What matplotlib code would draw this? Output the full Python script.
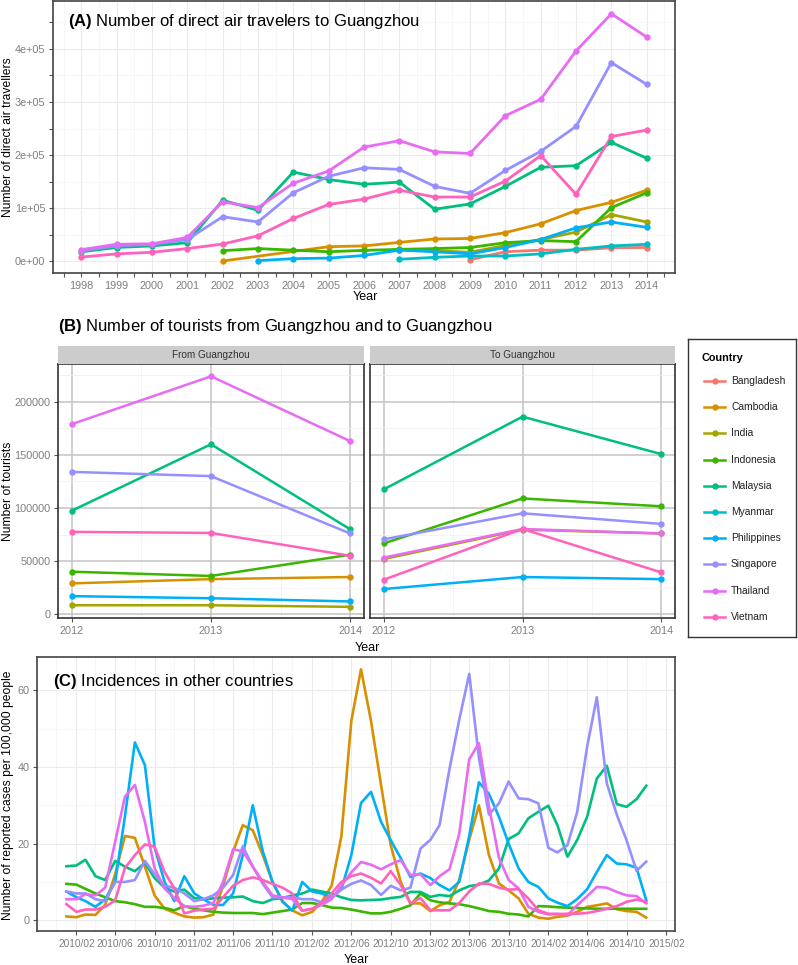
import numpy as np
import pandas as pd
import matplotlib
matplotlib.use('Agg')
import matplotlib.pyplot as plt
from matplotlib.patches import Rectangle

plt.rcParams['font.family'] = ['Liberation Sans', 'DejaVu Sans']
plt.rcParams['mathtext.fontset'] = 'custom'
plt.rcParams['mathtext.rm'] = 'Liberation Sans'
plt.rcParams['mathtext.bf'] = 'Liberation Sans:bold'

nan = np.nan

#%% data
countries = ['Bangladesh', 'Cambodia', 'India', 'Indonesia', 'Malaysia',
             'Myanmar', 'Philippines', 'Singapore', 'Thailand', 'Vietnam']
colors = ['#F8766D', '#D89000', '#A3A500', '#39B600', '#00BF7D',
          '#00BFC4', '#00B0F6', '#9590FF', '#E76BF3', '#FF62BC']

# (A) direct air travellers, 1998-2014
air_years = list(range(1998, 2015))
air_bangladesh = [nan]*11 + [3000, 18000, 21000, 21000, 25600, 26000]
air_cambodia = [nan]*4 + [600, nan, nan, 27500, 29000, 35600, 42000, 43000,
                          54000, 70600, 95600, 111000, 134000]
air_india = [nan]*9 + [22000, 20000, 17000, 30000, 41000, 55000, 88000, 74000]
air_indonesia = [nan]*4 + [20000, 24000, 21000, 18000, 20600, 22500, 24000,
                           26000, 35000, 39000, 37000, 101000, 129000]
air_malaysia = [18000, 26000, 29000, 35000, 115000, 96000, 168000, 154000,
                145000, 149000, 98000, 108000, 141000, 177000, 180000,
                224000, 194000]
air_myanmar = [nan]*9 + [3800, 7500, 10000, 10000, 14000, 22500, 29000, 32000]
air_philippines = [nan]*5 + [1300, 5000, 6000, 11000, 21000, 18000, 14000,
                             26000, 41000, 63000, 74000, 64000]
air_singapore = [20000, 29000, 32000, 41000, 84000, 74000, 129000, 160000,
                 176000, 173000, 141000, 128000, 171000, 207000, 254000,
                 374000, 333000]
air_thailand = [22000, 32000, 33000, 45000, 112000, 101000, 147000, 170000,
                215000, 227000, 206000, 203000, 274000, 305000, 396000,
                466000, 422000]
air_vietnam = [8000, 14000, 17000, 24000, 32500, 48000, 80600, 107000,
               117000, 134000, 121000, 121000, 151000, 199000, 126000,
               235000, 247000]

# (B) tourists, 2012-2014
tour_years = [2012, 2013, 2014]
from_cambodia = [29000, 33000, 35000]
from_india = [8400, 8400, 6900]
from_indonesia = [40000, 36000, 56000]
from_malaysia = [97500, 160000, 80000]
from_philippines = [17000, 15000, 12000]
from_singapore = [134000, 130000, 76000]
from_thailand = [179000, 224000, 163000]
from_vietnam = [77500, 76500, 55000]

to_india = [52000, 79600, 76000]
to_indonesia = [66700, 109000, 101600]
to_malaysia = [117600, 186000, 150800]
to_philippines = [23700, 35000, 33000]
to_singapore = [70500, 95000, 85000]
to_thailand = [53300, 80200, 76000]
to_vietnam = [32500, 80200, 39400]

# (C) monthly incidence per 100,000, 2010/01 - 2014/12
months = pd.date_range('2010-01-01', periods=60, freq='MS')
inc_cambodia = [1.0, 0.8, 1.5, 1.4, 4.0, 12.0, 22.0, 21.5, 14.0, 6.5,
                3.0, 2.0, 1.0, 0.7, 0.8, 1.5, 9.0, 17.9, 24.8, 23.5,
                17.0, 10.0, 4.8, 2.6, 1.3, 2.2, 4.8, 9.0, 21.8, 52.0,
                65.5, 52.0, 35.3, 19.6, 10.0, 4.4, 4.4, 2.4, 3.9, 4.8,
                10.5, 21.0, 30.0, 17.0, 9.6, 7.8, 5.7, 1.7, 0.7, 0.4,
                0.9, 1.2, 2.2, 3.5, 3.9, 4.4, 2.9, 2.4, 2.2, 0.7]
inc_indonesia = [9.5, 9.3, 8.2, 7.0, 6.0, 5.0, 4.7, 4.2, 3.5, 3.5,
                 3.2, 2.6, 3.7, 3.0, 2.6, 2.2, 2.0, 1.9, 1.9, 1.9,
                 1.6, 2.0, 2.4, 2.8, 4.5, 4.5, 4.0, 3.3, 3.2, 2.8,
                 2.3, 1.8, 1.8, 2.2, 3.0, 3.9, 7.0, 5.2, 4.7, 4.4,
                 4.2, 3.7, 3.1, 2.4, 2.2, 1.7, 1.5, 1.0, 3.7, 3.6,
                 3.4, 3.3, 3.2, 3.1, 3.0, 3.0, 3.0, 3.0, 3.0, 3.0]
inc_malaysia = [14.1, 14.3, 15.8, 11.5, 10.5, 15.5, 14.0, 12.8, 15.0, 11.0,
                8.5, 7.5, 8.0, 5.8, 5.5, 5.7, 5.9, 6.0, 6.2, 5.0,
                4.5, 5.5, 5.8, 6.5, 7.0, 8.0, 7.5, 7.0, 6.0, 5.3,
                5.2, 5.3, 5.4, 5.8, 6.1, 7.4, 7.4, 6.1, 6.6, 6.3,
                7.8, 8.9, 9.3, 10.4, 13.5, 21.2, 22.7, 26.6, 28.3, 29.9,
                24.8, 16.6, 20.9, 27.0, 37.0, 40.3, 30.3, 29.6, 31.6, 35.1]
inc_philippines = [7.5, 6.0, 5.0, 3.5, 5.5, 10.0, 27.0, 46.4, 40.5, 19.0,
                   10.0, 5.0, 11.5, 7.0, 5.5, 4.0, 4.0, 7.0, 17.0, 30.0,
                   18.0, 10.0, 5.0, 2.5, 10.0, 7.5, 7.0, 6.0, 8.0, 17.0,
                   30.6, 33.5, 25.7, 20.9, 16.2, 11.3, 12.2, 11.0, 9.2, 7.8,
                   10.0, 22.0, 36.0, 33.0, 27.0, 20.0, 13.5, 10.0, 8.7, 5.7,
                   4.6, 3.7, 5.5, 8.1, 12.6, 17.0, 14.8, 14.6, 13.7, 5.2]
inc_singapore = [7.5, 7.0, 7.0, 5.5, 5.0, 10.0, 10.0, 10.5, 15.5, 12.0,
                 9.0, 8.5, 7.0, 5.0, 5.5, 6.5, 8.5, 11.8, 19.3, 14.0,
                 9.5, 6.0, 6.0, 6.0, 5.5, 5.5, 4.7, 6.0, 8.0, 9.5,
                 10.4, 9.2, 6.6, 9.0, 7.8, 8.5, 18.7, 21.0, 24.8, 39.5,
                 52.3, 64.3, 42.4, 27.6, 30.5, 36.2, 31.8, 31.6, 30.5, 18.9,
                 17.7, 19.6, 28.2, 45.3, 58.2, 35.7, 27.5, 20.9, 12.9, 15.3]
inc_thailand = [5.5, 5.5, 6.8, 6.5, 8.5, 20.5, 32.2, 35.3, 25.7, 13.6,
                8.3, 5.8, 3.7, 3.5, 3.8, 4.5, 10.0, 18.5, 18.0, 14.0,
                10.0, 6.5, 6.0, 5.5, 2.5, 3.0, 4.0, 5.5, 9.0, 12.5,
                15.2, 14.5, 13.3, 14.6, 15.7, 11.8, 12.0, 9.2, 11.5, 13.3,
                22.5, 42.0, 46.2, 29.8, 16.3, 10.5, 8.3, 3.5, 2.2, 1.5,
                1.7, 1.3, 3.9, 6.3, 8.7, 8.5, 7.4, 6.5, 6.3, 4.4]
inc_vietnam = [4.2, 2.2, 2.8, 2.8, 3.5, 5.2, 13.6, 17.0, 19.8, 19.2,
               12.6, 8.3, 1.8, 2.5, 2.8, 3.0, 6.0, 9.0, 10.5, 11.2,
               10.5, 9.5, 8.5, 7.0, 2.5, 3.0, 4.5, 7.0, 10.0, 11.5,
               12.2, 11.1, 9.6, 12.8, 9.2, 4.4, 5.8, 2.6, 2.6, 2.6,
               4.5, 7.5, 9.6, 9.5, 8.5, 8.0, 8.1, 5.7, 2.6, 1.7,
               1.6, 1.7, 1.7, 1.9, 2.4, 3.0, 3.7, 4.8, 5.4, 4.8]

air = {'Bangladesh': air_bangladesh, 'Cambodia': air_cambodia, 'India': air_india,
       'Indonesia': air_indonesia, 'Malaysia': air_malaysia, 'Myanmar': air_myanmar,
       'Philippines': air_philippines, 'Singapore': air_singapore,
       'Thailand': air_thailand, 'Vietnam': air_vietnam}
tour_from = {'Cambodia': from_cambodia, 'India': from_india, 'Indonesia': from_indonesia,
             'Malaysia': from_malaysia, 'Philippines': from_philippines,
             'Singapore': from_singapore, 'Thailand': from_thailand,
             'Vietnam': from_vietnam}
tour_to = {'India': to_india, 'Indonesia': to_indonesia, 'Malaysia': to_malaysia,
           'Philippines': to_philippines, 'Singapore': to_singapore,
           'Thailand': to_thailand, 'Vietnam': to_vietnam}
incid = {'Cambodia': inc_cambodia, 'Indonesia': inc_indonesia, 'Malaysia': inc_malaysia,
         'Philippines': inc_philippines, 'Singapore': inc_singapore,
         'Thailand': inc_thailand, 'Vietnam': inc_vietnam}
col = dict(zip(countries, colors))

#%% figure
W, H = 798, 965
fig = plt.figure(figsize=(W/100, H/100), dpi=100)
fig.patch.set_facecolor('white')

TICK_LBL = '#7F7F7F'


def box(x0, y0, x1, y1):
    # pixel box (top-left origin) -> figure fraction rect
    return [x0/W, 1 - y1/H, (x1 - x0)/W, (y1 - y0)/H]


def style(ax, major='#EBEBEB', minor='#F4F4F4', spine='#444444', lw_major=0.8):
    for s in ax.spines.values():
        s.set_color(spine)
        s.set_linewidth(1.2)
    ax.tick_params(which='both', length=3, width=0.8, color='#555555',
                   labelcolor=TICK_LBL, labelsize=7.8, pad=2.5)
    ax.grid(True, which='major', color=major, linewidth=lw_major)
    ax.grid(True, which='minor', color=minor, linewidth=0.5)
    ax.set_axisbelow(True)


def draw_series(ax, x, data, lw=2.0, ms=4.6):
    for name in countries:
        if name not in data:
            continue
        y = np.array(data[name], dtype=float)
        xs = np.array(x)
        ok = ~np.isnan(y)
        ax.plot(xs[ok], y[ok], '-', color=col[name], lw=lw,
                solid_capstyle='round', solid_joinstyle='round', zorder=2)
    for name in countries:
        if name not in data:
            continue
        y = np.array(data[name], dtype=float)
        xs = np.array(x)
        ok = ~np.isnan(y)
        ax.plot(xs[ok], y[ok], 'o', color=col[name], ms=ms, mec='none', zorder=3)


#%% (A) air travellers
ax_a = fig.add_axes(box(53, 1, 675, 273))
draw_series(ax_a, air_years, air)
ax_a.set_xlim(1997.2, 2014.8)
ax_a.set_ylim(-22000, 490000)
ax_a.set_xticks(air_years)
ax_a.set_xticks(np.arange(1997.5, 2015, 1.0), minor=True)
ax_a.set_yticks([0, 100000, 200000, 300000, 400000])
ax_a.set_yticklabels(['0e+00', '1e+05', '2e+05', '3e+05', '4e+05'])
ax_a.set_yticks(np.arange(50000, 490000, 100000), minor=True)
style(ax_a)
ax_a.tick_params(axis='x', which='minor', length=3)
ax_a.text(0.024, 0.926, r'$\mathbf{(A)}$ Number of direct air travelers to Guangzhou',
          transform=ax_a.transAxes, fontsize=12, va='center', ha='left')
fig.text(365/W, 1 - 297/H, 'Year', fontsize=9, ha='center', va='center')
fig.text(8/W, 1 - 137/H, 'Number of direct air travellers', fontsize=8.7,
         rotation=90, ha='center', va='center')

#%% (B) tourists
fig.text(58/W, 1 - 326/H, r'$\mathbf{(B)}$ Number of tourists from Guangzhou and to Guangzhou',
         fontsize=12, ha='left', va='center')
facets = [('From Guangzhou', tour_from, 58, 364), ('To Guangzhou', tour_to, 370, 675)]
for i, (label, data, x0, x1) in enumerate(facets):
    ax = fig.add_axes(box(x0, 364, x1, 618))
    draw_series(ax, tour_years, data, lw=1.8, ms=4.6)
    ax.set_xlim(2011.9, 2014.1)
    ax.set_ylim(-3600, 235600)
    ax.set_xticks(tour_years)
    ax.set_xticks([2012.5, 2013.5], minor=True)
    ax.set_yticks([0, 50000, 100000, 150000, 200000])
    ax.set_yticks([25000, 75000, 125000, 175000, 225000], minor=True)
    style(ax, major='#C4C4C4', minor='#EEEEEE', spine='#333333', lw_major=1.1)
    ax.tick_params(axis='x', which='minor', length=0)
    ax.tick_params(axis='y', which='minor', length=0)
    if i == 0:
        ax.set_yticklabels(['0', '50000', '100000', '150000', '200000'])
    else:
        ax.tick_params(axis='y', which='both', length=0, labelleft=False)
    fig.patches.append(Rectangle((x0/W, 1 - 364/H), (x1 - x0)/W, 18/H,
                                 transform=fig.transFigure, facecolor='#CCCCCC',
                                 edgecolor='none', zorder=0))
    fig.text((x0 + x1)/2/W, 1 - 355/H, label, fontsize=7.2, color='#333333',
             ha='center', va='center')
fig.text(367/W, 1 - 648/H, 'Year', fontsize=9, ha='center', va='center')
fig.text(8/W, 1 - 491/H, 'Number of tourists', fontsize=8.7,
         rotation=90, ha='center', va='center')

#%% legend
ax_l = fig.add_axes(box(688, 339, 796, 637))
ax_l.set_xlim(0, 108)
ax_l.set_ylim(298, 0)
ax_l.set_xticks([])
ax_l.set_yticks([])
for s in ax_l.spines.values():
    s.set_color('#333333')
    s.set_linewidth(1.0)
ax_l.text(13.5, 19, 'Country', fontsize=7.8, fontweight='bold', va='center', ha='left')
for k, name in enumerate(countries):
    yk = 42 + k*26.2
    ax_l.plot([16, 37], [yk, yk], '-', color=col[name], lw=1.8)
    ax_l.plot([26.5], [yk], 'o', color=col[name], ms=4.6, mec='none')
    ax_l.text(43, yk, name, fontsize=7.4, va='center', ha='left', color='#222222')

#%% (C) incidence
ax_c = fig.add_axes(box(37, 657, 675, 931))
for name in countries:
    if name in incid:
        ax_c.plot(months, incid[name], '-', color=col[name], lw=1.9,
                  solid_joinstyle='round')
ax_c.set_xlim(pd.Timestamp('2009-10-02'), pd.Timestamp('2015-02-28'))
ax_c.set_ylim(-2.8, 68.7)
maj = pd.date_range('2010-02-01', '2015-02-01', freq='4MS')
mnr = pd.date_range('2009-12-01', '2015-02-01', freq='4MS')
ax_c.set_xticks(maj)
ax_c.set_xticklabels([d.strftime('%Y/%m') for d in maj])
ax_c.set_xticks(mnr, minor=True)
ax_c.set_yticks([0, 20, 40, 60])
ax_c.set_yticks([10, 30, 50], minor=True)
style(ax_c)
ax_c.tick_params(axis='x', labelsize=7.3)
ax_c.tick_params(which='minor', length=0)
ax_c.text(0.025, 0.912, r'$\mathbf{(C)}$ Incidences in other countries',
          transform=ax_c.transAxes, fontsize=12, va='center', ha='left')
fig.text(356/W, 1 - 960/H, 'Year', fontsize=9, ha='center', va='center')
fig.text(8/W, 1 - 795/H, 'Number of reported cases per 100,000 people', fontsize=8.7,
         rotation=90, ha='center', va='center')

fig.savefig('out.png', dpi=100)
